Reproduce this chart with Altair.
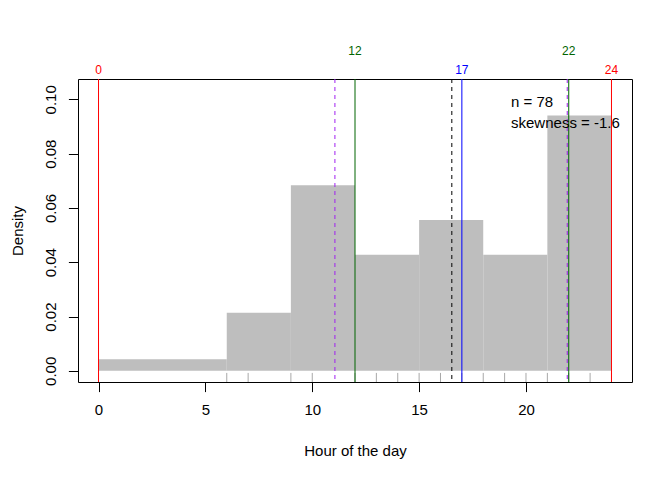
import altair as alt
import pandas as pd

# ---- data ----
bin_edges = [0, 6, 9, 12, 15, 18, 21, 24]
bin_counts = [2, 5, 16, 10, 13, 10, 22]
n_obs = 78
rug_hours = [0, 6, 7, 9, 10, 12, 13, 14, 15, 16, 17, 18, 19, 20, 21, 22, 23, 24]
solid_pos = [0, 12, 17, 22, 24]
solid_col = ["#FF0000", "#006400", "#0000FF", "#006400", "#FF0000"]
solid_row = [1, 2, 1, 2, 1]
dashed_pos = [11.06, 16.53, 21.93]
dashed_col = ["#A020F0", "#000000", "#A020F0"]
x_ticks = [0, 5, 10, 15, 20]
y_ticks = [0.0, 0.02, 0.04, 0.06, 0.08, 0.10]
note_lines = ["n = 78", "skewness = -1.6"]
note_x = [19.3, 19.3]
note_y = [0.0990, 0.0912]

FONT = "Liberation Sans"
X_LO, X_HI = -0.96, 24.96
Y_LO, Y_HI = -0.0041, 0.1075
W, H = 554, 303

bars = pd.DataFrame({
    "start": bin_edges[:-1],
    "end": bin_edges[1:],
    "density": [c / (n_obs * (b - a)) for c, a, b in zip(bin_counts, bin_edges[:-1], bin_edges[1:])],
    "base": [0.0] * len(bin_counts),
})
rug = pd.DataFrame({"hour": rug_hours})
solid = pd.DataFrame({"pos": solid_pos, "col": solid_col, "row": solid_row,
                      "label": [str(p) for p in solid_pos]})
dashed = pd.DataFrame({"pos": dashed_pos, "col": dashed_col})
notes = pd.DataFrame({"text": note_lines, "x": note_x, "y": note_y})

xs = alt.Scale(domain=[X_LO, X_HI], nice=False, zero=False)
ys = alt.Scale(domain=[Y_LO, Y_HI], nice=False, zero=False)

x_axis = alt.Axis(values=x_ticks, title="Hour of the day", domain=False, grid=False,
                  tickSize=9.6, tickColor="black", labelFont=FONT, labelFontSize=15,
                  labelColor="black", labelPadding=11, labelFlush=False,
                  titleFont=FONT, titleFontSize=15, titleFontWeight="normal",
                  titleColor="black", titleX=W / 2, titleY=68, titleBaseline="middle",
                  titleAlign="center")
y_axis = alt.Axis(values=y_ticks, format=".2f", title="Density", domain=False, grid=False,
                  tickSize=9.6, tickColor="black", labelFont=FONT, labelFontSize=15,
                  labelColor="black", labelAngle=270, labelAlign="center",
                  labelBaseline="bottom", labelPadding=10, labelFlush=False,
                  titleFont=FONT, titleFontSize=15, titleFontWeight="normal",
                  titleColor="black", titleAngle=270, titleX=-61, titleY=H / 2,
                  titleBaseline="middle", titleAlign="center")

hist = alt.Chart(bars).mark_rect(color="#BEBEBE").encode(
    x=alt.X("start:Q", scale=xs, axis=x_axis),
    x2="end",
    y=alt.Y("base:Q", scale=ys, axis=y_axis),
    y2="density",
)

rug_layer = alt.Chart(rug).mark_rule(color="#A8A8A8", strokeWidth=1).encode(
    x=alt.X("hour:Q", scale=xs, title="Hour of the day"),
    y=alt.datum(Y_LO),
    y2=alt.datum(Y_LO + 0.03 * (Y_HI - Y_LO)),
)

solid_layer = alt.Chart(solid).mark_rule(strokeWidth=1).encode(
    x=alt.X("pos:Q", scale=xs, title="Hour of the day"),
    color=alt.Color("col:N", scale=None),
)

dashed_layer = alt.Chart(dashed).mark_rule(strokeWidth=1, strokeDash=[4, 4]).encode(
    x=alt.X("pos:Q", scale=xs, title="Hour of the day"),
    color=alt.Color("col:N", scale=None),
)

lab1 = alt.Chart(solid).transform_filter("datum.row == 1").mark_text(
    font=FONT, fontSize=12, align="center", baseline="middle").encode(
    x=alt.X("pos:Q", scale=xs, title="Hour of the day"),
    y=alt.value(-9),
    text="label:N",
    color=alt.Color("col:N", scale=None),
)
lab2 = alt.Chart(solid).transform_filter("datum.row == 2").mark_text(
    font=FONT, fontSize=12, align="center", baseline="middle").encode(
    x=alt.X("pos:Q", scale=xs, title="Hour of the day"),
    y=alt.value(-28),
    text="label:N",
    color=alt.Color("col:N", scale=None),
)

note_layer = alt.Chart(notes).mark_text(
    font=FONT, fontSize=15, align="left", baseline="middle", color="black").encode(
    x=alt.X("x:Q", scale=xs, title="Hour of the day"),
    y=alt.Y("y:Q", scale=ys, title="Density"),
    text="text:N",
)

chart = alt.layer(hist, rug_layer, solid_layer, dashed_layer, lab1, lab2, note_layer).properties(
    width=W, height=H,
    autosize=alt.AutoSizeParams(type="none"),
    padding={"left": 70, "top": 71, "right": 30, "bottom": 86},
    background="white",
).configure_view(stroke="black", strokeWidth=1)

chart.save("out.html", embed_options={"renderer": "svg", "actions": False})
